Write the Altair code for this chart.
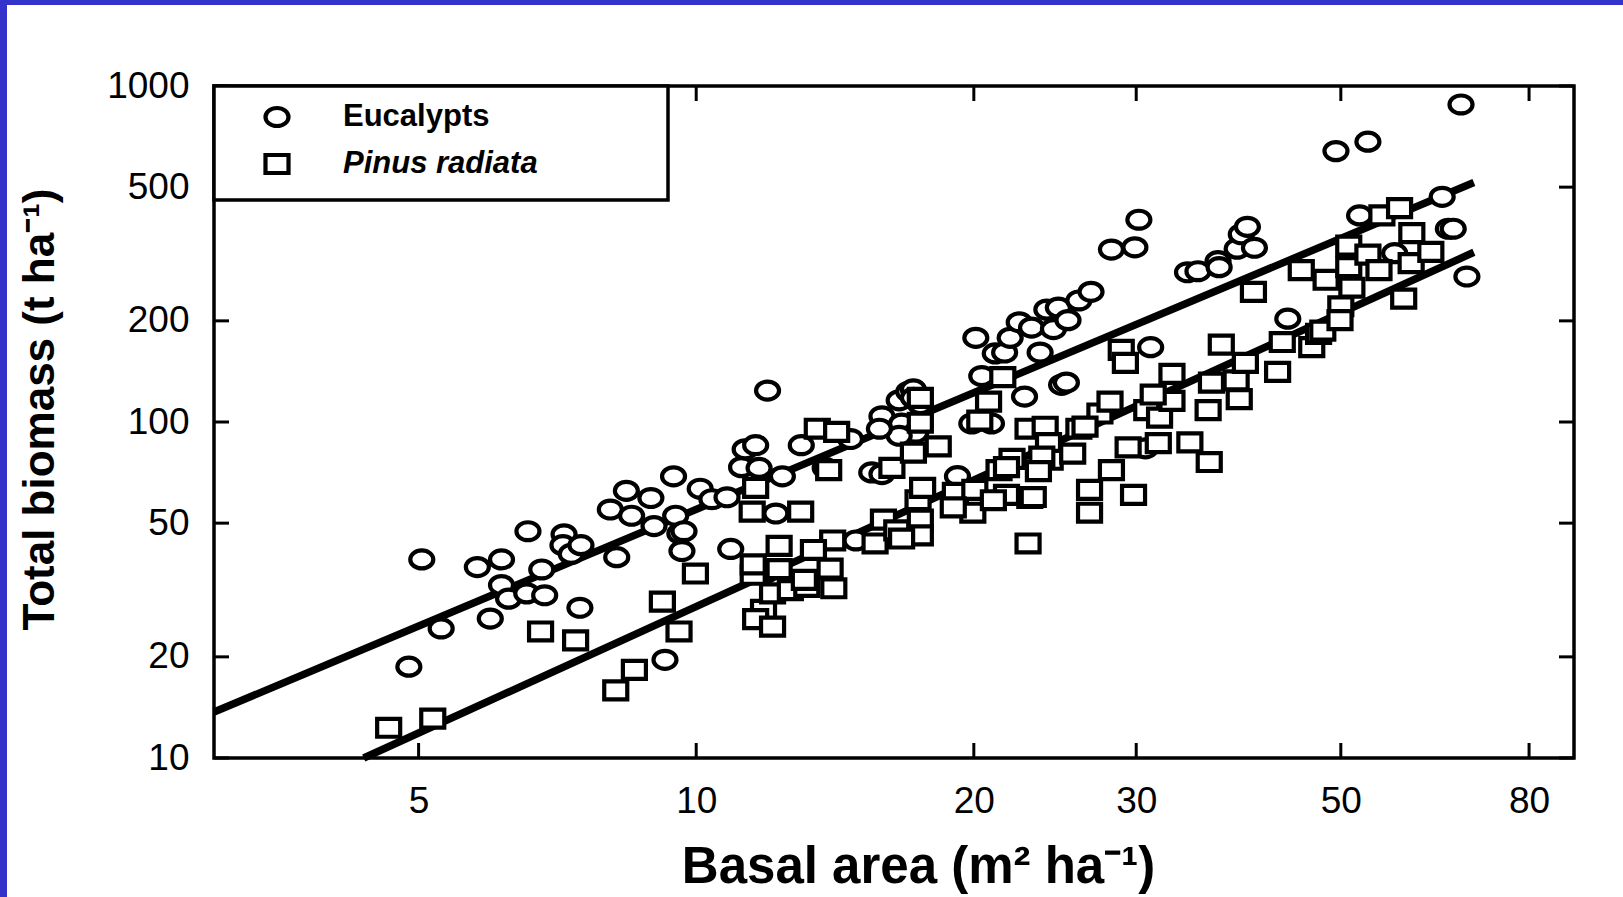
import altair as alt
import pandas as pd

FONT = "Liberation Sans, Arial, Helvetica, sans-serif"

# ---- data (basal area m2/ha, total biomass t/ha) ----
eucalypt_points = [
    (5.04, 39), (4.88, 18.7), (5.29, 24.3), (5.79, 37), (5.98, 26), (6.15, 39), (6.15, 32.7),
    (6.26, 29.8), (6.57, 47.3), (6.55, 30.9), (6.80, 36.4), (6.85, 30.5), (7.19, 46.3), (7.17, 43),
    (7.32, 40.5), (7.5, 43), (7.48, 28), (8.07, 54.9), (8.2, 39.6), (8.4, 62.4), (8.51, 52.6),
    (8.93, 59.4), (9.0, 49), (9.25, 19.6), (9.45, 68.9), (9.5, 52.6), (9.6, 46.6), (9.7, 47.3),
    (9.65, 41.3), (10.1, 63.3), (10.4, 58.9), (10.8, 59.7), (10.9, 41.9), (11.2, 73.4), (11.3, 82.9),
    (11.6, 85.3), (11.7, 73), (11.95, 124), (11.9, 35.6), (12.2, 53.4), (12.4, 68.9), (13.0, 85.3),
    (13.8, 73), (14.7, 89), (14.9, 44.4), (15.5, 70.8), (15.9, 104), (15.9, 70), (16.6, 116),
    (16.7, 98.9), (17.0, 123), (17.2, 125), (17.2, 118), (17.3, 92.9), (17.5, 113), (16.6, 91),
    (19.2, 69), (19.9, 99), (20.1, 178), (20.4, 137), (20.9, 99), (21.1, 160), (21.6, 161),
    (21.9, 178), (22.4, 198), (22.7, 119), (23.1, 191), (23.6, 161), (24.0, 216), (24.4, 189),
    (24.7, 219), (25.3, 201), (24.9, 129), (25.2, 131), (26.0, 230), (26.8, 244), (28.2, 326),
    (29.9, 331), (30.2, 400), (31.1, 167), (30.7, 83.5), (34.1, 279), (35.0, 281), (36.8, 301),
    (36.9, 289), (38.6, 328), (39.0, 362), (39.6, 381), (40.3, 330), (43.8, 203), (49.4, 640),
    (53.5, 683), (52.4, 412), (64.4, 468), (65.4, 376), (66.2, 376), (67.5, 881), (68.5, 271),
    (57.2, 318), (15.8, 95.5),
]
pinus_points = [
    (4.64, 12.3), (5.18, 13.1), (6.78, 23.8), (7.40, 22.4), (8.18, 15.9), (8.57, 18.3), (9.19, 29.2),
    (9.58, 23.8), (9.98, 35.4), (11.53, 35.1), (11.53, 37.7), (11.83, 27.6), (11.6, 25.9), (12.1, 24.6),
    (12.1, 30.9), (12.65, 31.6), (12.3, 42.8), (11.5, 54.1), (11.6, 63.7), (12.98, 54.1), (13.18, 32.3),
    (13.53, 95.5), (14.2, 93.5), (13.92, 71.9), (13.97, 36.6), (14.06, 44.4), (14.1, 32), (13.4, 41.6),
    (15.63, 43.5), (15.96, 51.2), (16.5, 47.6), (16.3, 73), (17.5, 51.2), (17.4, 58.5), (17.6, 63.7),
    (17.2, 81.1), (17.5, 99.5), (17.5, 118), (18.3, 84.6), (19.1, 61.5), (19.95, 53.7), (20.05, 62.8),
    (20.3, 101), (20.75, 115), (21.5, 136), (21.3, 71.9), (22.0, 77.7), (23.0, 59.4), (22.9, 43.5),
    (22.9, 95.5), (23.9, 96.8), (24.1, 86.5), (24.2, 77.2), (25.6, 80.5), (26.0, 95.5), (26.7, 62.8),
    (26.7, 53.7), (23.7, 78.9), (23.2, 59.8), (21.7, 60.7), (21.7, 73.4), (27.4, 106), (28.1, 115),
    (28.2, 71.9), (29.4, 84), (29.8, 60.7), (28.9, 164), (29.2, 150), (30.8, 108.5), (31.8, 103),
    (31.7, 86.5), (32.8, 139), (32.8, 115.6), (34.3, 87), (36.0, 76), (35.9, 108.5), (37.1, 170),
    (36.2, 131), (38.5, 133), (38.8, 117), (39.4, 150), (40.2, 244), (42.7, 141), (43.2, 173),
    (45.3, 283), (46.5, 167), (47.3, 183), (47.8, 187), (48.2, 265), (50.0, 221), (49.9, 201),
    (51.0, 335), (51.0, 289), (51.4, 251), (53.5, 315), (55.0, 283), (55.4, 412), (57.9, 433),
    (58.5, 233), (59.6, 297), (59.7, 365), (62.6, 321), (31.3, 120.7), (26.4, 96.9), (23.5, 71.4),
    (21.0, 58.5), (19.0, 55.7), (17.5, 46), (16.7, 45), (13.1, 33.9), (12.3, 36.5),
]

# fitted lines: end points
eucalypt_fit_x = [3.0, 69.7]
eucalypt_fit_y = [13.7, 516]
pinus_fit_x = [4.36, 69.7]
pinus_fit_y = [10.0, 320]

species = ["Eucalypts", "Pinus radiata"]
x_ticks = [5, 10, 20, 30, 50, 80]
y_ticks = [10, 20, 50, 100, 200, 500, 1000]

# ---- layout ----
W, H = 1360, 672
PAD = {"left": 214, "top": 86, "right": 49, "bottom": 139}
TICK = 15
BLUE = "#3333cc"
MSIZE = 530
MSTROKE = 4.2
LEG_W, LEG_H = 454, 114
LEG_SYM_X, LEG_TXT_X = 63, 129
LEG_ROWS = [31, 78]

xs = alt.Scale(type="log", domain=[3.0, 89.5], nice=False)
ys = alt.Scale(type="log", domain=[10, 1000], nice=False)

x_axis = alt.Axis(
    values=x_ticks, format="d", title="Basal area (m² ha⁻¹)", ticks=False, tickSize=0,
    domain=False, grid=False, labelFontSize=37, labelFont=FONT, labelColor="black",
    labelPadding=25, labelFlush=False, labelOverlap=False,
    titleFont=FONT, titleFontSize=51, titleFontWeight="bold", titleColor="black",
    titleX=704, titleY=124, titleAlign="center", titleBaseline="alphabetic",
)
y_axis = alt.Axis(
    values=y_ticks, format="d", title="Total biomass (t ha⁻¹)", ticks=False, tickSize=0,
    domain=False, grid=False, labelFontSize=37, labelFont=FONT, labelColor="black",
    labelPadding=25, labelFlush=False, labelOverlap=False,
    titleFont=FONT, titleFontSize=44, titleFontWeight="bold", titleColor="black",
    titleX=-174, titleY=323, titleAlign="center", titleBaseline="middle",
)


def X():
    return alt.X("ba:Q", scale=xs, axis=x_axis)


def Y():
    return alt.Y("tb:Q", scale=ys, axis=y_axis)


pts = pd.DataFrame(
    [(x, y, species[0]) for x, y in eucalypt_points]
    + [(x, y, species[1]) for x, y in pinus_points],
    columns=["ba", "tb", "species"],
)
fits = pd.DataFrame({
    "ba": eucalypt_fit_x + pinus_fit_x,
    "tb": eucalypt_fit_y + pinus_fit_y,
    "fit": [species[0]] * 2 + [species[1]] * 2,
})

circle_path = "M -1 0 A 1 0.78 0 1 1 1 0 A 1 0.78 0 1 1 -1 0 Z"
square_path = "M -1 -0.78 L 1 -0.78 L 1 0.78 L -1 0.78 Z"
shape_scale = alt.Scale(domain=species, range=[circle_path, square_path])
marker_style = dict(filled=False, fill="white", stroke="black", strokeWidth=MSTROKE, size=MSIZE,
                    opacity=1, fillOpacity=1, strokeOpacity=1)

points = alt.Chart(pts).mark_point(**marker_style).encode(
    x=X(), y=Y(),
    shape=alt.Shape("species:N", scale=shape_scale, legend=None),
)

lines = alt.Chart(fits).mark_line(color="black", strokeWidth=7.5).encode(
    x=X(), y=Y(), detail="fit:N"
)

xt = pd.DataFrame({"ba": x_ticks})
yt = pd.DataFrame({"tb": y_ticks})
tick_style = dict(color="black", strokeWidth=3)
bottom_ticks = alt.Chart(xt).mark_rule(**tick_style).encode(x=X(), y=alt.value(H), y2=alt.value(H - TICK))
top_ticks = alt.Chart(xt).mark_rule(**tick_style).encode(x=X(), y=alt.value(0), y2=alt.value(TICK))
left_ticks = alt.Chart(yt).mark_rule(**tick_style).encode(y=Y(), x=alt.value(0), x2=alt.value(TICK))
right_ticks = alt.Chart(yt).mark_rule(**tick_style).encode(y=Y(), x=alt.value(W), x2=alt.value(W - TICK))

one = pd.DataFrame({"k": [0]})
strip_top = alt.Chart(one).mark_rect(color=BLUE).encode(
    x=alt.value(-PAD["left"]), x2=alt.value(W + PAD["right"]),
    y=alt.value(-PAD["top"]), y2=alt.value(-PAD["top"] + 5),
)
strip_left = alt.Chart(one).mark_rect(color=BLUE).encode(
    x=alt.value(-PAD["left"]), x2=alt.value(-PAD["left"] + 7),
    y=alt.value(-PAD["top"]), y2=alt.value(H + PAD["bottom"]),
)

# ---- legend (boxed, top-left inside the frame) ----
leg_box = alt.Chart(one).mark_rect(fill="white", stroke="black", strokeWidth=3.5).encode(
    x=alt.value(0), x2=alt.value(LEG_W), y=alt.value(0), y2=alt.value(LEG_H),
)
leg_layers = [leg_box]
for name, row, style in zip(species, LEG_ROWS, ["normal", "italic"]):
    sym_df = pd.DataFrame({"species": [name]})
    leg_layers.append(
        alt.Chart(sym_df).mark_point(**marker_style).encode(
            x=alt.value(LEG_SYM_X), y=alt.value(row),
            shape=alt.Shape("species:N", scale=shape_scale, legend=None),
        )
    )
    leg_layers.append(
        alt.Chart(sym_df).mark_text(
            font=FONT, fontSize=31, fontWeight="bold", fontStyle=style, color="black",
            align="left", baseline="middle",
        ).encode(x=alt.value(LEG_TXT_X), y=alt.value(row), text="species:N")
    )

chart = alt.layer(
    strip_top, strip_left, lines, points, bottom_ticks, top_ticks, left_ticks, right_ticks,
    *leg_layers,
).properties(
    width=W, height=H, padding=PAD, autosize=alt.AutoSizeParams(type="none"), background="white"
).configure_view(
    stroke="black", strokeWidth=3.5
)

chart.save("out.html", embed_options={"renderer": "svg", "actions": False})
